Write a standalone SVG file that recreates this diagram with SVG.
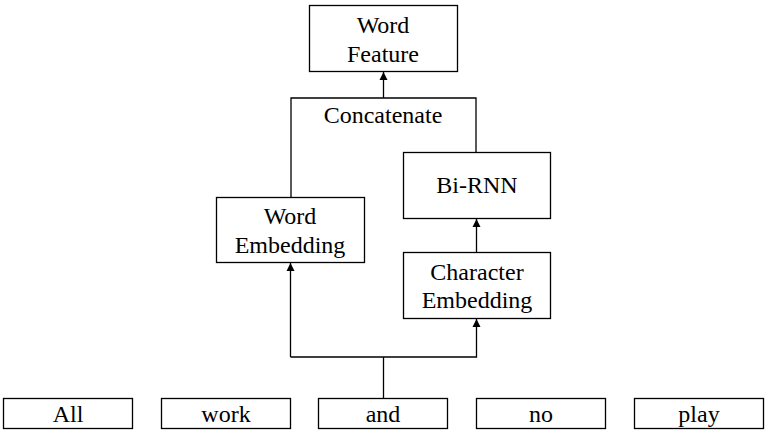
<svg xmlns="http://www.w3.org/2000/svg" width="770" height="435" viewBox="0 0 770 435">
<defs>
<marker id="arr" markerWidth="8" markerHeight="10" refX="8" refY="4" orient="auto" markerUnits="userSpaceOnUse" viewBox="0 0 8 8">
<path d="M0,0 L8,4 L0,8 Z" fill="#000"/>
</marker>
</defs>
<style>
rect{fill:#fff;stroke:#000;stroke-width:1.3}
text{font-family:'Liberation Serif','Times New Roman',serif;font-size:24px;fill:#000;text-anchor:middle}
.c{fill:none;stroke:#000;stroke-width:1.3}
</style>
<rect x="0" y="0" width="770" height="435" style="stroke:none"/>
<g id="connectors">
<path class="c" d="M291,197 V98 H476 V152"/>
<path class="c" d="M383.5,98 V72" marker-end="url(#arr)"/>
<path class="c" d="M476.5,252 V219" marker-end="url(#arr)"/>
<path class="c" d="M383.5,398 V357"/>
<path class="c" d="M290.5,357 V263" marker-end="url(#arr)"/>
<path class="c" d="M290.5,357 H476.5 V319" marker-end="url(#arr)"/>
</g>
<g id="concat"><text x="383" y="123">Concatenate</text></g>
<g id="wordfeature"><rect x="309.5" y="5.5" width="148" height="66"/><text x="383" y="33">Word</text><text x="383" y="62">Feature</text></g>
<g id="birnn"><rect x="403.5" y="152.5" width="147" height="66"/><text x="477" y="193">Bi-RNN</text></g>
<g id="wordemb"><rect x="216.5" y="197.5" width="148" height="65"/><text x="290" y="224">Word</text><text x="290" y="253">Embedding</text></g>
<g id="charemb"><rect x="403.5" y="252.5" width="147" height="66"/><text x="477" y="280">Character</text><text x="477" y="308">Embedding</text></g>
<g id="w1"><rect x="3.5" y="398.5" width="129" height="30"/><text x="68" y="422">All</text></g>
<g id="w2"><rect x="161.5" y="398.5" width="129" height="30"/><text x="226" y="422">work</text></g>
<g id="w3"><rect x="318.5" y="398.5" width="129" height="30"/><text x="383" y="422">and</text></g>
<g id="w4"><rect x="476.5" y="398.5" width="129" height="30"/><text x="541" y="422">no</text></g>
<g id="w5"><rect x="634.5" y="398.5" width="129" height="30"/><text x="699" y="422">play</text></g>
</svg>
